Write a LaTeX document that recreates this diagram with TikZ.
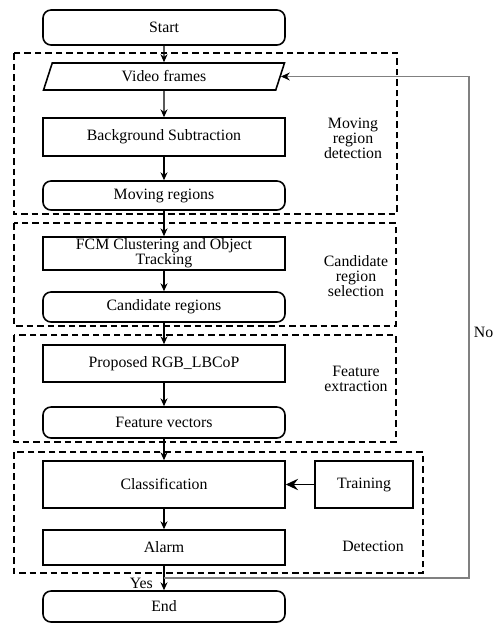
\documentclass[tikz,border=0pt]{standalone}
\usepackage{fontspec}
\setmainfont{Liberation Serif}
\usetikzlibrary{arrows.meta,positioning,shapes.geometric}

\begin{document}
\begin{tikzpicture}[>={Stealth[length=4.5pt,width=4pt]},font=\fontsize{9}{8.6}\selectfont,
  stepbox/.style={draw,line width=0.9pt,minimum width=4.84cm,align=center,inner sep=1pt},
  roundbox/.style={stepbox,rounded corners=0.16cm},
  stagebox/.style={line width=0.8pt,dash pattern=on 0.13cm off 0.08cm},
  stagelabel/.style={align=center,inner sep=0pt},
  flow/.style={->,line width=0.75pt}]
\useasboundingbox (0,0) rectangle (9.86,-12.46);
% stages
\draw[stagebox] (0.28,-1.06) rectangle (7.94,-4.28);
\draw[stagebox] (0.28,-4.46) rectangle (7.92,-6.52);
\draw[stagebox] (0.28,-6.70) rectangle (7.92,-8.84);
\draw[stagebox] (0.28,-9.04) rectangle (8.46,-11.46);
\node[stagelabel] (lmove) at (7.06,-2.76) {Moving\\region\\detection};
\node[stagelabel] (lcand) at (7.12,-5.52) {Candidate\\region\\selection};
\node[stagelabel] (lfeat) at (7.12,-7.58) {Feature\\extraction};
\node[stagelabel] (ldet) at (7.46,-10.92) {Detection};
% steps
\node[roundbox,minimum height=0.7cm] (start) at (3.28,-0.55) {Start};
\node[stepbox,trapezium,trapezium left angle=77,trapezium right angle=103,trapezium stretches=true,minimum height=0.54cm] (video) at (3.28,-1.53) {Video frames};
\node[stepbox,minimum height=0.76cm] (bgsub) at (3.28,-2.74) {Background Subtraction};
\node[roundbox,minimum height=0.58cm] (moving) at (3.28,-3.91) {Moving regions};
\node[stepbox,minimum height=0.66cm] (fcm) at (3.28,-5.07) {FCM Clustering and Object\\Tracking};
\node[roundbox,minimum height=0.6cm] (cand) at (3.28,-6.14) {Candidate regions};
\node[stepbox,minimum height=0.74cm] (lbcop) at (3.28,-7.27) {Proposed RGB\_LBCoP};
\node[roundbox,minimum height=0.62cm] (fvec) at (3.28,-8.45) {Feature vectors};
\node[stepbox,minimum height=0.94cm] (classif) at (3.28,-9.69) {Classification};
\node[stepbox,minimum width=1.96cm,minimum height=0.94cm] (train) at (7.28,-9.69) {Training};
\node[stepbox,minimum height=0.7cm] (alarm) at (3.28,-10.95) {Alarm};
\node[roundbox,minimum height=0.62cm] (end) at (3.28,-12.13) {End};
% connectors
\draw[flow] (start) -- (video);
\draw[flow] (video) -- (bgsub);
\draw[flow] (bgsub) -- (moving);
\draw[flow] (moving) -- (fcm);
\draw[flow] (fcm) -- (cand);
\draw[flow] (cand) -- (lbcop);
\draw[flow] (lbcop) -- (fvec);
\draw[flow] (fvec) -- (classif);
\draw[line width=0.75pt,-{Stealth[length=7pt,width=6.5pt,inset=2.5pt]}] (train) -- (classif);
\draw[flow] (classif) -- (alarm);
\draw[flow] (alarm) -- (end);
% loop back
\coordinate (split) at (3.28,-11.56);
\coordinate (loop) at (9.38,-11.56);
\draw[gray,line width=0.6pt,-{Stealth[length=5pt,width=4.5pt,black]}] (split) -- (loop) |- (video.east);
\node[anchor=east,inner sep=1pt] (yes) at (3.1,-11.66) {Yes};
\node[anchor=west,inner sep=0pt] (no) at (9.47,-6.64) {No};
\end{tikzpicture}
\end{document}
